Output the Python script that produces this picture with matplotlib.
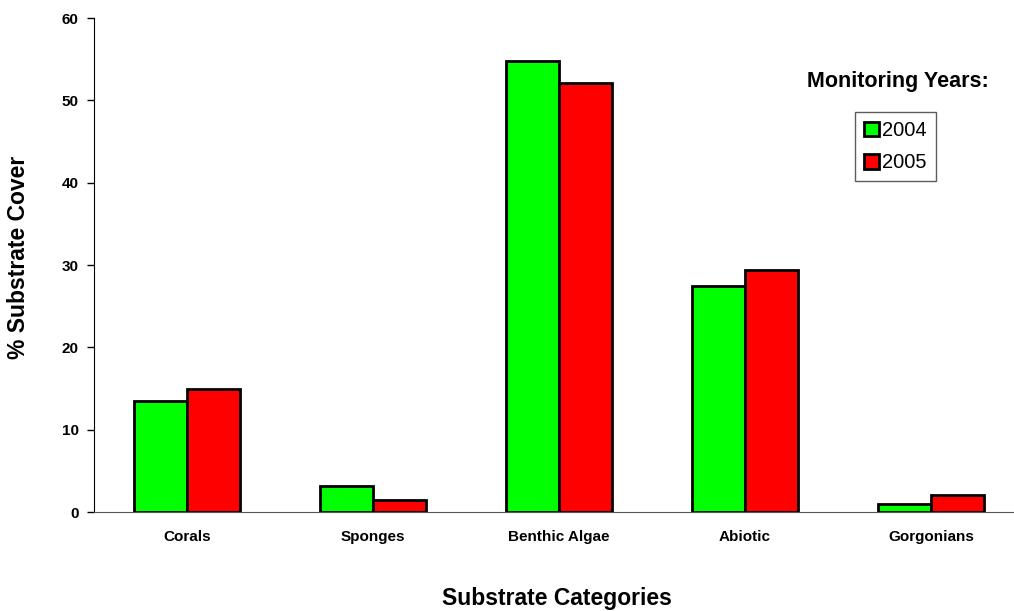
import numpy as np
import matplotlib.pyplot as plt

categories = ['Corals', 'Sponges', 'Benthic Algae', 'Abiotic', 'Gorgonians']
cover_2004 = [13.5, 3.15, 54.8, 27.45, 1.0]
cover_2005 = [14.95, 1.45, 52.15, 29.4, 2.05]

plt.rcParams['font.family'] = ['Liberation Sans', 'DejaVu Sans']

fig = plt.figure(figsize=(10.14, 6.11), dpi=100)
W, H = 1014, 611
ax = fig.add_axes([94 / W, 1 - 512 / H, 930 / W, (512 - 18) / H])

x = np.arange(len(categories))
w = 0.285
b1 = ax.bar(x - w / 2, cover_2004, w, color='#00ff00', edgecolor='black', linewidth=2, label='2004')
b2 = ax.bar(x + w / 2, cover_2005, w, color='#ff0000', edgecolor='black', linewidth=2, label='2005')

ax.set_xlim(-0.5, 4.5)
ax.set_ylim(0, 60)
ax.set_yticks(range(0, 61, 10))
ax.set_xticks(x)
ax.set_xticklabels(categories, fontsize=11, fontweight='bold')
ax.tick_params(axis='x', length=0, pad=13)
ax.tick_params(axis='y', direction='out', length=5, width=1, labelsize=11, pad=6)
for lbl in ax.get_yticklabels():
    lbl.set_fontweight('bold')

ax.spines['top'].set_visible(False)
ax.spines['right'].set_visible(False)
ax.spines['left'].set_color('black')
ax.spines['bottom'].set_color('#555555')

fig.text(19 / W, 1 - 257 / H, '% Substrate Cover', rotation=90, fontsize=16.5,
         fontweight='bold', ha='center', va='center')
fig.text(557 / W, 1 - 598 / H, 'Substrate Categories', fontsize=16.5,
         fontweight='bold', ha='center', va='center')
fig.text(898 / W, 1 - 81 / H, 'Monitoring Years:', fontsize=15.5,
         fontweight='bold', ha='center', va='center')

leg = ax.legend(handles=[b1, b2], loc='upper left', bbox_to_anchor=(855 / W, 1 - 112 / H),
                bbox_transform=fig.transFigure, fontsize=14.5, frameon=True, fancybox=False,
                edgecolor='#333333', handlelength=0.75, handleheight=0.75, handletextpad=0.15,
                borderpad=0.45, labelspacing=0.65, borderaxespad=0)
leg.get_frame().set_linewidth(1)

fig.savefig('out.png', dpi=100)
